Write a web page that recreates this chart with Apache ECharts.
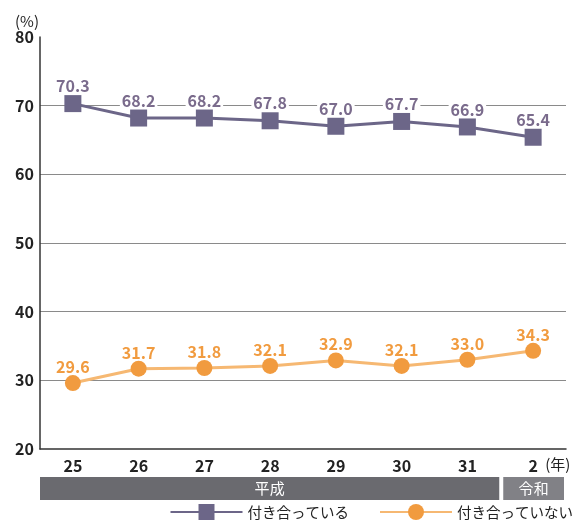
<!DOCTYPE html>
<html><head><meta charset="utf-8">
<script src="https://cdn.jsdelivr.net/npm/echarts@6/dist/echarts.min.js"></script>
<style>html,body{margin:0;padding:0;background:#fff}#c{width:582px;height:522px}</style>
</head><body><div id="c"></div>
<script>
const categories = ['25','26','27','28','29','30','31','2'];
const dating = [70.3, 68.2, 68.2, 67.8, 67.0, 67.7, 66.9, 65.4];
const notDating = [29.6, 31.7, 31.8, 32.1, 32.9, 32.1, 33.0, 34.3];
const seriesNames = ['付き合っている', '付き合っていない'];
const eraNames = ['平成', '令和'];
const eraSpans = [7, 1];
const yTicks = [20, 30, 40, 50, 60, 70, 80];

const FONT = '"Noto Sans CJK JP", "Noto Sans", sans-serif';
const PURPLE = '#6c6688';
const PURPLE_LABEL = '#7a6b8c';
const ORANGE = '#f19b3f';
const ORANGE_LINE = '#f6b872';

const chart = echarts.init(document.getElementById('c'), null, {renderer: 'canvas'});
const option = {
  animation: false,
  textStyle: {fontFamily: FONT},
  grid: {left: 40, right: 16, top: 37, bottom: 73},
  xAxis: {
    type: 'category', data: categories, boundaryGap: true,
    axisLine: {lineStyle: {color: '#333', width: 1.5}},
    axisTick: {inside: true, length: 6, lineStyle: {color: '#333', width: 1}},
    axisLabel: {color: '#222', fontSize: 16, fontWeight: 'bold', margin: 9, fontFamily: FONT}
  },
  yAxis: {
    type: 'value', min: yTicks[0], max: yTicks[yTicks.length - 1], interval: 10,
    name: '(%)', nameLocation: 'end', nameGap: 6,
    nameTextStyle: {color: '#222', fontSize: 15, align: 'right', padding: [0, 1, 0, 0], fontFamily: FONT},
    axisLine: {show: true, lineStyle: {color: '#333', width: 1.5}},
    axisTick: {show: false},
    axisLabel: {color: '#222', fontSize: 16, fontWeight: 'bold', margin: 6, fontFamily: FONT},
    splitLine: {show: true, lineStyle: {color: '#8a8a8a', width: 1},
      showMinLine: false, showMaxLine: false}
  },
  legend: {
    bottom: -3, right: 4, itemWidth: 72, itemHeight: 20, itemGap: 30,
    textStyle: {color: '#222', fontSize: 14.5, fontFamily: FONT},
    data: [seriesNames[0], seriesNames[1]]
  },
  series: [
    {
      name: seriesNames[0], type: 'line', data: dating,
      symbol: 'rect', symbolSize: 17,
      lineStyle: {color: PURPLE, width: 3},
      itemStyle: {color: PURPLE},
      label: {show: true, position: 'top', distance: 1, color: PURPLE_LABEL,
        fontSize: 16, fontWeight: 'bold', fontFamily: FONT,
        backgroundColor: '#fff', padding: [0, 2],
        formatter: p => p.value.toFixed(1)}
    },
    {
      name: seriesNames[1], type: 'line', data: notDating,
      symbol: 'circle', symbolSize: 16,
      lineStyle: {color: ORANGE_LINE, width: 3},
      itemStyle: {color: ORANGE},
      label: {show: true, position: 'top', distance: 0, color: ORANGE,
        fontSize: 16, fontWeight: 'bold', fontFamily: FONT,
        formatter: p => p.value.toFixed(1)}
    }
  ]
};
chart.setOption(option);

function drawExtras() {
  const y0 = chart.convertToPixel({yAxisIndex: 0}, yTicks[0]);
  const half = (chart.convertToPixel({xAxisIndex: 0}, categories[1]) - chart.convertToPixel({xAxisIndex: 0}, categories[0])) / 2;
  const elements = [];
  let idx = 0;
  eraNames.forEach((name, i) => {
    const first = categories[idx];
    const last = categories[idx + eraSpans[i] - 1];
    const x1 = chart.convertToPixel({xAxisIndex: 0}, first) - half + (i > 0 ? 3 : 0);
    const x2 = chart.convertToPixel({xAxisIndex: 0}, last) + half - (i < eraNames.length - 1 ? 1 : 2);
    elements.push({
      type: 'rect', shape: {x: x1, y: y0 + 28, width: x2 - x1, height: 23},
      style: {fill: i === 0 ? '#6a6a6f' : '#818186'}, silent: true
    });
    elements.push({
      type: 'text', x: (x1 + x2) / 2, y: y0 + 39.5,
      style: {text: name, fill: '#fff', fontSize: 15, fontFamily: FONT, align: 'center', verticalAlign: 'middle'},
      silent: true
    });
    idx += eraSpans[i];
  });
  const xl = chart.convertToPixel({xAxisIndex: 0}, categories[categories.length - 1]);
  elements.push({
    type: 'text', x: xl + 12, y: y0 + 15,
    style: {text: '(年)', fill: '#222', fontSize: 15, fontFamily: FONT, align: 'left', verticalAlign: 'middle'},
    silent: true
  });
  chart.setOption({graphic: elements});
}
drawExtras();
</script></body></html>
